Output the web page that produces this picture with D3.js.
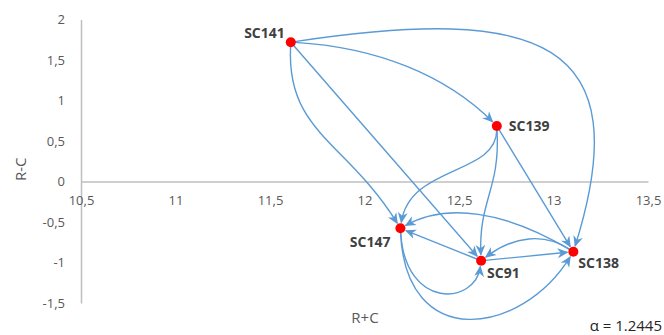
<!DOCTYPE html>
<html><head><meta charset="utf-8">
<script src="https://cdn.jsdelivr.net/npm/d3@7"></script>
<style>body{margin:0;background:#fff}</style>
</head><body>
<svg id="c" width="664" height="335"></svg>
<script>
// ---- data ----
const nodeNames = ["SC141","SC139","SC147","SC91","SC138"];
const nodeX = [11.61, 12.70, 12.19, 12.617, 13.105];   // R+C
const nodeY = [1.72, 0.685, -0.578, -0.978, -0.867];  // R-C
const edgeFrom = ["SC141","SC141","SC141","SC141","SC139","SC139","SC139","SC138","SC138","SC91","SC91","SC147","SC147"];
const edgeTo   = ["SC138","SC139","SC91","SC147","SC147","SC91","SC138","SC147","SC91","SC147","SC138","SC91","SC138"];
const xTicks = [10.5, 11, 11.5, 12, 12.5, 13, 13.5];
const yTicks = [2, 1.5, 1, 0.5, 0, -0.5, -1, -1.5];
const alphaText = "α = 1.2445";

// ---- style: edge curvature handles relative to chord [a1,b1,a2,b2] ----
const edgeBend = [
  [0.505,-0.507,0.793,-0.597],
  [0.368,-0.125,0.701,-0.125],
  [1/3,0,2/3,0],
  [0.348,0.230,0.529,0.010],
  [0.257,-0.240,0.625,0.261],
  [0.465,-0.081,0.556,0.0715],
  [1/3,0,2/3,0],
  [0.425,0.181,0.758,0.181],
  [0.289,0.235,0.622,0.235],
  [1/3,0,2/3,0],
  [1/3,0,2/3,0],
  [0.404,0.858,1.130,0.496],
  [0.124,0.700,0.768,0.520]
];
const labelOffset = {SC141:[-6,-4,"end"],SC139:[12,5,"start"],SC147:[-10,19,"end"],SC91:[6,17,"start"],SC138:[5,16,"start"]};

const svg = d3.select("#c");
const x = d3.scaleLinear().domain([10.5,13.5]).range([81,648]);
const y = d3.scaleLinear().domain([-1.5,2]).range([303,19.5]);
const fmt = v => String(v).replace(".", ",");
const grey = "#595959", axisCol = "#BFBFBF", blue = "#5B9BD5";

// y axis
const yAxis = svg.append("g").attr("transform", `translate(${x(10.5)},0)`)
  .call(d3.axisLeft(y).tickValues(yTicks).tickFormat(fmt).tickSize(0).tickPadding(16));
yAxis.select(".domain").attr("stroke", axisCol).attr("stroke-width", 1.5);
yAxis.selectAll("text").attr("fill", grey).style("font-family","Open Sans").style("font-size","13px");

// x axis at y=0
const xAxis = svg.append("g").attr("transform", `translate(0,${y(0)})`)
  .call(d3.axisBottom(x).tickValues(xTicks).tickFormat(fmt).tickSize(0).tickPadding(14));
xAxis.select(".domain").attr("stroke", axisCol).attr("stroke-width", 1.5);
xAxis.selectAll("text").attr("fill", grey).style("font-family","Open Sans").style("font-size","13px");

// axis titles
svg.append("text").attr("transform", `translate(26,${y(0.15)}) rotate(-90)`)
  .attr("text-anchor","middle").attr("fill",grey).style("font-family","Open Sans").style("font-size","15px").text("R-C");
svg.append("text").attr("x", 365).attr("y", 323).attr("text-anchor","middle")
  .attr("fill",grey).style("font-family","Open Sans").style("font-size","15px").text("R+C");
svg.append("text").attr("x", 662).attr("y", 331).attr("text-anchor","end")
  .attr("fill","#262626").style("font-family","Open Sans").style("font-size","15px").text(alphaText);

// arrow marker
svg.append("defs").append("marker").attr("id","arr")
  .attr("viewBox","0 0 10 10").attr("refX",9).attr("refY",5)
  .attr("markerWidth",11).attr("markerHeight",11).attr("markerUnits","userSpaceOnUse")
  .attr("orient","auto")
  .append("path").attr("d","M0,0.5 L10,5 L0,9.5 L3,5 Z").attr("fill",blue);

const idx = n => nodeNames.indexOf(n);
const P = n => [x(nodeX[idx(n)]), y(nodeY[idx(n)])];

edgeFrom.forEach((f,i) => {
  const p0 = P(f), p3 = P(edgeTo[i]);
  const d = [p3[0]-p0[0], p3[1]-p0[1]], nrm = [-d[1], d[0]];
  const [a1,b1,a2,b2] = edgeBend[i];
  const c1 = [p0[0]+a1*d[0]+b1*nrm[0], p0[1]+a1*d[1]+b1*nrm[1]];
  const c2 = [p0[0]+a2*d[0]+b2*nrm[0], p0[1]+a2*d[1]+b2*nrm[1]];
  const u = (a,b) => { const dx=b[0]-a[0], dy=b[1]-a[1], L=Math.hypot(dx,dy)||1; return [dx/L,dy/L]; };
  const us = u(p0,c1), ue = u(c2,p3);
  const s = [p0[0]+us[0]*4, p0[1]+us[1]*4];
  const e = [p3[0]-ue[0]*6, p3[1]-ue[1]*6];
  const path = d3.path();
  path.moveTo(s[0],s[1]);
  path.bezierCurveTo(c1[0],c1[1],c2[0],c2[1],e[0],e[1]);
  svg.append("path").attr("d", path.toString()).attr("fill","none")
    .attr("stroke", blue).attr("stroke-width",1.4).attr("marker-end","url(#arr)");
});

// nodes
svg.selectAll("circle.node").data(nodeNames).join("circle").attr("class","node")
  .attr("cx", (d,i)=>x(nodeX[i])).attr("cy",(d,i)=>y(nodeY[i])).attr("r",5).attr("fill","#FF0000");
svg.selectAll("text.lbl").data(nodeNames).join("text").attr("class","lbl")
  .attr("x",(d,i)=>x(nodeX[i])+labelOffset[d][0]).attr("y",(d,i)=>y(nodeY[i])+labelOffset[d][1])
  .attr("text-anchor",d=>labelOffset[d][2]).attr("fill","#404040")
  .style("font-family","Open Sans").style("font-weight","bold").style("font-size","14px").text(d=>d);
</script>
</body></html>
